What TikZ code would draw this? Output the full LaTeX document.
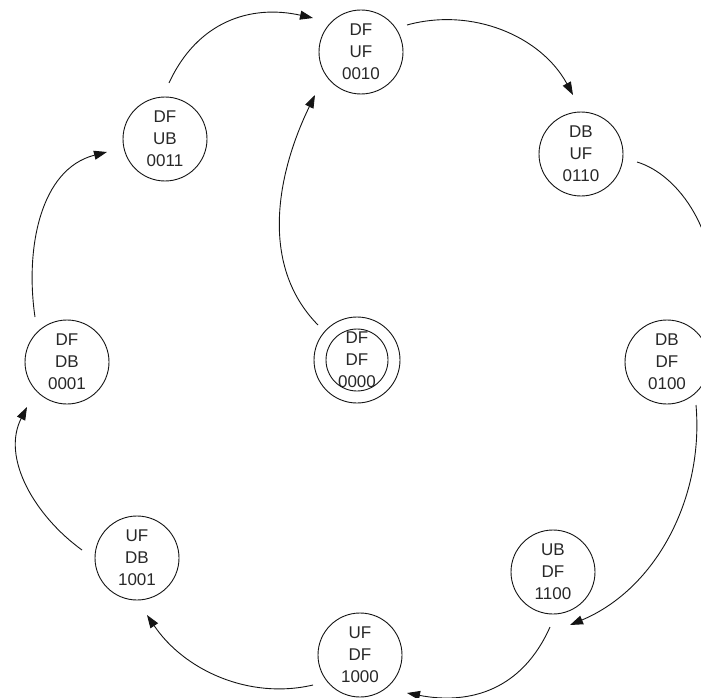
\documentclass[tikz,border=0pt]{standalone}
\usepackage{fontspec}
\setmainfont{Liberation Sans}
\usetikzlibrary{arrows.meta}
\definecolor{linecol}{RGB}{20,20,20}
\definecolor{txtcol}{RGB}{40,40,40}
\begin{document}
\begin{tikzpicture}[x=1pt,y=-1pt,
  state/.style={circle,draw=linecol,line width=0.9pt,minimum size=84pt,inner sep=0pt,
    align=center,font=\fontsize{17}{22}\selectfont,text=txtcol},
  trans/.style={draw=linecol,line width=0.9pt,-{Triangle[length=13pt,width=9pt]}}]
\useasboundingbox (0,0) rectangle (701,698);
\clip (0,0) rectangle (701,698);

% states
\node[state] (n0010) at (361,52) {DF\\UF\\0010};
\node[state] (n0110) at (581,154) {DB\\UF\\0110};
\node[state] (n0011) at (165,139) {DF\\UB\\0011};
\node[state] (n0001) at (67,362) {DF\\DB\\0001};
\node[state,minimum size=86pt] (n0000) at (357,360) {DF\\DF\\0000};
\draw[linecol,line width=0.9pt] (n0000.center) circle (31);
\node[state] (n0100) at (667,362) {DB\\DF\\0100};
\node[state] (n1001) at (137,558) {UF\\DB\\1001};
\node[state] (n1100) at (553,572) {UB\\DF\\1100};
\node[state] (n1000) at (360,655) {UF\\DF\\1000};

% connector end points
\coordinate (s0001) at (35,317);   \coordinate (t0011) at (107,152);
\coordinate (s0011) at (169,83);   \coordinate (t0010a) at (313,18);
\coordinate (s0000) at (318,325);  \coordinate (t0010b) at (315,95);
\coordinate (s0010) at (407,25);   \coordinate (t0110) at (573,95);
\coordinate (s0110) at (637,162);  \coordinate (t0100) at (712,318);
\coordinate (s0100) at (696,405);  \coordinate (t1100) at (570,625);
\coordinate (s1100) at (550,627);  \coordinate (t1000) at (407,693);
\coordinate (s1000) at (313,685);  \coordinate (t1001) at (147,615);
\coordinate (s1001) at (82,550);   \coordinate (t0001) at (27,407);

% transitions
\draw[trans] (s0001) .. controls (25,249) and (40,169) .. (t0011);
\draw[trans] (s0011) .. controls (197,22) and (250,4) .. (t0010a);
\draw[trans] (s0000) .. controls (258,264) and (278,171) .. (t0010b);
\draw[trans] (s0010) .. controls (472,7) and (541,36) .. (t0110);
\draw[trans] (s0110) .. controls (680,175) and (720,235) .. (t0100);
\draw[trans] (s0100) .. controls (704,498) and (656,589) .. (t1100);
\draw[trans] (s1100) .. controls (522,690) and (470,705) .. (t1000);
\draw[trans] (s1000) .. controls (249,700) and (184,670) .. (t1001);
\draw[trans] (s1001) .. controls (35,516) and (1,458) .. (t0001);
\end{tikzpicture}
\end{document}
